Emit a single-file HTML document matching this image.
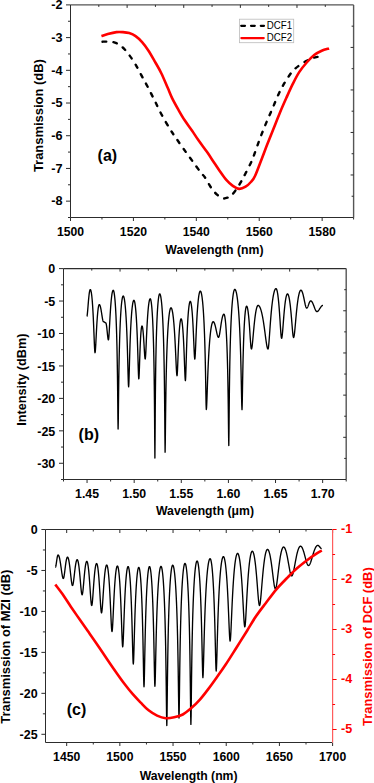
<!DOCTYPE html>
<html><head><meta charset="utf-8"><style>html,body{margin:0;padding:0;background:#fff;overflow:hidden}svg{display:block}text{font-family:"Liberation Sans",sans-serif}</style></head>
<body>
<svg width="374" height="783" viewBox="0 0 374 783">
<rect width="374" height="783" fill="#fff"/>
<line x1="70.5" y1="4.9" x2="353.6" y2="4.9" stroke="#555" stroke-width="1.4"/>
<line x1="353.6" y1="4.9" x2="353.6" y2="217.5" stroke="#555" stroke-width="1.4"/>
<line x1="70.5" y1="217.5" x2="353.6" y2="217.5" stroke="#2c2c2c" stroke-width="1"/>
<line x1="70.5" y1="4.9" x2="70.5" y2="217.5" stroke="#2c2c2c" stroke-width="1"/>
<line x1="66.0" y1="4.9" x2="70.5" y2="4.9" stroke="#2c2c2c" stroke-width="1"/>
<line x1="68.0" y1="21.253846153846155" x2="70.5" y2="21.253846153846155" stroke="#2c2c2c" stroke-width="1"/>
<line x1="66.0" y1="37.607692307692304" x2="70.5" y2="37.607692307692304" stroke="#2c2c2c" stroke-width="1"/>
<line x1="68.0" y1="53.96153846153846" x2="70.5" y2="53.96153846153846" stroke="#2c2c2c" stroke-width="1"/>
<line x1="66.0" y1="70.31538461538462" x2="70.5" y2="70.31538461538462" stroke="#2c2c2c" stroke-width="1"/>
<line x1="68.0" y1="86.66923076923078" x2="70.5" y2="86.66923076923078" stroke="#2c2c2c" stroke-width="1"/>
<line x1="66.0" y1="103.02307692307693" x2="70.5" y2="103.02307692307693" stroke="#2c2c2c" stroke-width="1"/>
<line x1="68.0" y1="119.37692307692309" x2="70.5" y2="119.37692307692309" stroke="#2c2c2c" stroke-width="1"/>
<line x1="66.0" y1="135.73076923076923" x2="70.5" y2="135.73076923076923" stroke="#2c2c2c" stroke-width="1"/>
<line x1="68.0" y1="152.08461538461538" x2="70.5" y2="152.08461538461538" stroke="#2c2c2c" stroke-width="1"/>
<line x1="66.0" y1="168.43846153846155" x2="70.5" y2="168.43846153846155" stroke="#2c2c2c" stroke-width="1"/>
<line x1="68.0" y1="184.7923076923077" x2="70.5" y2="184.7923076923077" stroke="#2c2c2c" stroke-width="1"/>
<line x1="66.0" y1="201.14615384615385" x2="70.5" y2="201.14615384615385" stroke="#2c2c2c" stroke-width="1"/>
<line x1="68.0" y1="217.49999999999997" x2="70.5" y2="217.49999999999997" stroke="#2c2c2c" stroke-width="1"/>
<text x="0" y="0" font-size="12.7" font-weight="bold" text-anchor="end" fill="#000"  transform="translate(62.6 9.25) scale(1 1.06)">-2</text>
<text x="0" y="0" font-size="12.7" font-weight="bold" text-anchor="end" fill="#000"  transform="translate(62.6 41.957692307692305) scale(1 1.06)">-3</text>
<text x="0" y="0" font-size="12.7" font-weight="bold" text-anchor="end" fill="#000"  transform="translate(62.6 74.66538461538461) scale(1 1.06)">-4</text>
<text x="0" y="0" font-size="12.7" font-weight="bold" text-anchor="end" fill="#000"  transform="translate(62.6 107.37307692307692) scale(1 1.06)">-5</text>
<text x="0" y="0" font-size="12.7" font-weight="bold" text-anchor="end" fill="#000"  transform="translate(62.6 140.08076923076922) scale(1 1.06)">-6</text>
<text x="0" y="0" font-size="12.7" font-weight="bold" text-anchor="end" fill="#000"  transform="translate(62.6 172.78846153846155) scale(1 1.06)">-7</text>
<text x="0" y="0" font-size="12.7" font-weight="bold" text-anchor="end" fill="#000"  transform="translate(62.6 205.49615384615385) scale(1 1.06)">-8</text>
<line x1="70.5" y1="217.5" x2="70.5" y2="221.0" stroke="#2c2c2c" stroke-width="1"/>
<line x1="101.95555555555555" y1="217.5" x2="101.95555555555555" y2="219.5" stroke="#2c2c2c" stroke-width="1"/>
<line x1="133.4111111111111" y1="217.5" x2="133.4111111111111" y2="221.0" stroke="#2c2c2c" stroke-width="1"/>
<line x1="164.86666666666667" y1="217.5" x2="164.86666666666667" y2="219.5" stroke="#2c2c2c" stroke-width="1"/>
<line x1="196.32222222222222" y1="217.5" x2="196.32222222222222" y2="221.0" stroke="#2c2c2c" stroke-width="1"/>
<line x1="227.7777777777778" y1="217.5" x2="227.7777777777778" y2="219.5" stroke="#2c2c2c" stroke-width="1"/>
<line x1="259.23333333333335" y1="217.5" x2="259.23333333333335" y2="221.0" stroke="#2c2c2c" stroke-width="1"/>
<line x1="290.68888888888887" y1="217.5" x2="290.68888888888887" y2="219.5" stroke="#2c2c2c" stroke-width="1"/>
<line x1="322.14444444444445" y1="217.5" x2="322.14444444444445" y2="221.0" stroke="#2c2c2c" stroke-width="1"/>
<line x1="353.6" y1="217.5" x2="353.6" y2="219.5" stroke="#2c2c2c" stroke-width="1"/>
<text x="0" y="0" font-size="12.2" font-weight="bold" text-anchor="middle" fill="#000"  transform="translate(70.5 236.2) scale(1 1.05)">1500</text>
<text x="0" y="0" font-size="12.2" font-weight="bold" text-anchor="middle" fill="#000"  transform="translate(133.4111111111111 236.2) scale(1 1.05)">1520</text>
<text x="0" y="0" font-size="12.2" font-weight="bold" text-anchor="middle" fill="#000"  transform="translate(196.32222222222222 236.2) scale(1 1.05)">1540</text>
<text x="0" y="0" font-size="12.2" font-weight="bold" text-anchor="middle" fill="#000"  transform="translate(259.23333333333335 236.2) scale(1 1.05)">1560</text>
<text x="0" y="0" font-size="12.2" font-weight="bold" text-anchor="middle" fill="#000"  transform="translate(322.14444444444445 236.2) scale(1 1.05)">1580</text>
<line x1="98.81" y1="4.9" x2="98.81" y2="6.9" stroke="#2c2c2c" stroke-width="1"/>
<line x1="127.12" y1="4.9" x2="127.12" y2="7.9" stroke="#2c2c2c" stroke-width="1"/>
<line x1="155.43" y1="4.9" x2="155.43" y2="6.9" stroke="#2c2c2c" stroke-width="1"/>
<line x1="183.74" y1="4.9" x2="183.74" y2="7.9" stroke="#2c2c2c" stroke-width="1"/>
<line x1="212.05" y1="4.9" x2="212.05" y2="6.9" stroke="#2c2c2c" stroke-width="1"/>
<line x1="240.36" y1="4.9" x2="240.36" y2="7.9" stroke="#2c2c2c" stroke-width="1"/>
<line x1="268.67" y1="4.9" x2="268.67" y2="6.9" stroke="#2c2c2c" stroke-width="1"/>
<line x1="296.98" y1="4.9" x2="296.98" y2="7.9" stroke="#2c2c2c" stroke-width="1"/>
<line x1="325.29" y1="4.9" x2="325.29" y2="6.9" stroke="#2c2c2c" stroke-width="1"/>
<line x1="351.6" y1="26.159999999999997" x2="353.6" y2="26.159999999999997" stroke="#2c2c2c" stroke-width="1"/>
<line x1="350.6" y1="47.419999999999995" x2="353.6" y2="47.419999999999995" stroke="#2c2c2c" stroke-width="1"/>
<line x1="351.6" y1="68.67999999999999" x2="353.6" y2="68.67999999999999" stroke="#2c2c2c" stroke-width="1"/>
<line x1="350.6" y1="89.94" x2="353.6" y2="89.94" stroke="#2c2c2c" stroke-width="1"/>
<line x1="351.6" y1="111.2" x2="353.6" y2="111.2" stroke="#2c2c2c" stroke-width="1"/>
<line x1="350.6" y1="132.45999999999998" x2="353.6" y2="132.45999999999998" stroke="#2c2c2c" stroke-width="1"/>
<line x1="351.6" y1="153.72" x2="353.6" y2="153.72" stroke="#2c2c2c" stroke-width="1"/>
<line x1="350.6" y1="174.98" x2="353.6" y2="174.98" stroke="#2c2c2c" stroke-width="1"/>
<line x1="351.6" y1="196.23999999999998" x2="353.6" y2="196.23999999999998" stroke="#2c2c2c" stroke-width="1"/>
<text x="214.4" y="254.0" font-size="12.7" font-weight="bold" text-anchor="middle" fill="#000"  textLength="98.2" lengthAdjust="spacingAndGlyphs">Wavelength (nm)</text>
<text x="42.7" y="115.6" font-size="13" font-weight="bold" text-anchor="middle" fill="#000"  transform="rotate(-90 42.7 115.6)" textLength="113" lengthAdjust="spacingAndGlyphs">Transmission (dB)</text>
<text x="107.4" y="161.2" font-size="16" font-weight="bold" text-anchor="middle" fill="#000" >(a)</text>
<rect x="239.5" y="19.2" width="54.2" height="23.5" fill="#fff" stroke="#bbb" stroke-width="0.8"/>
<line x1="241.2" y1="25.8" x2="264" y2="25.8" stroke="#000" stroke-width="2.2" stroke-dasharray="3.8,6" stroke-linecap="round"/>
<line x1="241.4" y1="38.1" x2="263.7" y2="38.1" stroke="#f00" stroke-width="2.3" stroke-linecap="round"/>
<text x="266.8" y="28.9" font-size="10" font-weight="normal" text-anchor="start" fill="#000"  textLength="25.3" lengthAdjust="spacingAndGlyphs">DCF1</text>
<text x="266.8" y="41.2" font-size="10" font-weight="normal" text-anchor="start" fill="#000"  textLength="25.3" lengthAdjust="spacingAndGlyphs">DCF2</text>
<path d="M101.40,41.70 C102.83,41.70 107.50,41.45 110.00,41.70 C112.50,41.95 114.27,42.23 116.40,43.20 C118.53,44.17 120.67,45.53 122.80,47.50 C124.93,49.47 127.07,52.15 129.20,55.00 C131.33,57.85 133.45,61.00 135.60,64.60 C137.75,68.20 139.95,72.63 142.10,76.60 C144.25,80.57 146.37,84.32 148.50,88.40 C150.63,92.48 152.75,96.80 154.90,101.10 C157.05,105.40 158.88,109.53 161.40,114.20 C163.92,118.87 167.55,125.10 170.00,129.10 C172.45,133.10 173.83,134.90 176.10,138.20 C178.37,141.50 180.93,145.17 183.60,148.90 C186.27,152.63 189.25,156.68 192.10,160.60 C194.95,164.52 198.55,169.58 200.70,172.40 C202.85,175.22 203.22,174.88 205.00,177.50 C206.78,180.12 209.40,185.25 211.40,188.10 C213.40,190.95 215.13,192.92 217.00,194.60 C218.87,196.28 220.87,197.68 222.60,198.20 C224.33,198.72 225.78,198.30 227.40,197.70 C229.02,197.10 230.28,196.82 232.30,194.60 C234.32,192.38 237.37,187.80 239.50,184.40 C241.63,181.00 243.23,177.73 245.10,174.20 C246.97,170.67 249.28,166.18 250.70,163.20 C252.12,160.22 252.12,160.25 253.60,156.30 C255.08,152.35 257.53,144.98 259.60,139.50 C261.67,134.02 263.85,128.58 266.00,123.40 C268.15,118.22 270.35,113.38 272.50,108.40 C274.65,103.42 276.77,97.95 278.90,93.50 C281.03,89.05 282.98,85.45 285.30,81.70 C287.62,77.95 290.13,73.95 292.80,71.00 C295.47,68.05 298.45,65.95 301.30,64.00 C304.15,62.05 307.40,60.45 309.90,59.30 C312.40,58.15 313.98,57.53 316.30,57.10 C318.62,56.67 322.55,56.77 323.80,56.70" fill="none" stroke="#000" stroke-width="2.4" stroke-dasharray="3.6,7.2" stroke-dashoffset="-1.2" stroke-linecap="round"/>
<path d="M101.40,36.10 C102.47,35.75 105.30,34.67 107.80,34.00 C110.30,33.33 113.90,32.42 116.40,32.10 C118.90,31.78 120.67,31.93 122.80,32.10 C124.93,32.27 127.07,32.43 129.20,33.10 C131.33,33.77 133.45,34.60 135.60,36.10 C137.75,37.60 139.95,39.67 142.10,42.10 C144.25,44.53 146.37,47.45 148.50,50.70 C150.63,53.95 152.77,57.85 154.90,61.60 C157.03,65.35 159.17,68.83 161.30,73.20 C163.43,77.57 165.90,83.65 167.70,87.80 C169.50,91.95 170.30,94.42 172.10,98.10 C173.90,101.78 176.40,106.20 178.50,109.90 C180.60,113.60 182.43,116.83 184.70,120.30 C186.97,123.77 189.80,127.37 192.10,130.70 C194.40,134.03 196.00,136.73 198.50,140.30 C201.00,143.87 204.60,148.53 207.10,152.10 C209.60,155.67 211.37,158.50 213.50,161.70 C215.63,164.90 217.77,168.27 219.90,171.30 C222.03,174.33 224.15,177.47 226.30,179.90 C228.45,182.33 230.65,184.40 232.80,185.90 C234.95,187.40 237.07,188.77 239.20,188.90 C241.33,189.03 243.65,187.85 245.60,186.70 C247.55,185.55 249.33,183.78 250.90,182.00 C252.47,180.22 253.18,179.88 255.00,176.00 C256.82,172.12 259.78,163.90 261.80,158.70 C263.82,153.50 265.15,149.78 267.10,144.80 C269.05,139.82 271.37,134.15 273.50,128.80 C275.63,123.45 277.75,117.87 279.90,112.70 C282.05,107.53 284.25,102.60 286.40,97.80 C288.55,93.00 290.67,88.18 292.80,83.90 C294.93,79.62 296.88,75.67 299.20,72.10 C301.52,68.53 304.20,65.35 306.70,62.50 C309.20,59.65 311.70,56.97 314.20,55.00 C316.70,53.03 319.22,51.80 321.70,50.70 C324.18,49.60 327.87,48.78 329.10,48.40" fill="none" stroke="#f00" stroke-width="2.6"/>
<line x1="63.5" y1="268.6" x2="346.2" y2="268.6" stroke="#2c2c2c" stroke-width="1.1"/>
<line x1="346.2" y1="268.6" x2="346.2" y2="479.5" stroke="#555" stroke-width="1.4"/>
<line x1="63.5" y1="479.5" x2="346.2" y2="479.5" stroke="#2c2c2c" stroke-width="1"/>
<line x1="63.5" y1="268.6" x2="63.5" y2="479.5" stroke="#2c2c2c" stroke-width="1"/>
<line x1="59.0" y1="268.6" x2="63.5" y2="268.6" stroke="#2c2c2c" stroke-width="1"/>
<line x1="61.0" y1="284.82307692307694" x2="63.5" y2="284.82307692307694" stroke="#2c2c2c" stroke-width="1"/>
<line x1="59.0" y1="301.04615384615386" x2="63.5" y2="301.04615384615386" stroke="#2c2c2c" stroke-width="1"/>
<line x1="61.0" y1="317.2692307692308" x2="63.5" y2="317.2692307692308" stroke="#2c2c2c" stroke-width="1"/>
<line x1="59.0" y1="333.4923076923077" x2="63.5" y2="333.4923076923077" stroke="#2c2c2c" stroke-width="1"/>
<line x1="61.0" y1="349.7153846153846" x2="63.5" y2="349.7153846153846" stroke="#2c2c2c" stroke-width="1"/>
<line x1="59.0" y1="365.9384615384615" x2="63.5" y2="365.9384615384615" stroke="#2c2c2c" stroke-width="1"/>
<line x1="61.0" y1="382.1615384615385" x2="63.5" y2="382.1615384615385" stroke="#2c2c2c" stroke-width="1"/>
<line x1="59.0" y1="398.3846153846154" x2="63.5" y2="398.3846153846154" stroke="#2c2c2c" stroke-width="1"/>
<line x1="61.0" y1="414.60769230769233" x2="63.5" y2="414.60769230769233" stroke="#2c2c2c" stroke-width="1"/>
<line x1="59.0" y1="430.8307692307692" x2="63.5" y2="430.8307692307692" stroke="#2c2c2c" stroke-width="1"/>
<line x1="61.0" y1="447.05384615384617" x2="63.5" y2="447.05384615384617" stroke="#2c2c2c" stroke-width="1"/>
<line x1="59.0" y1="463.2769230769231" x2="63.5" y2="463.2769230769231" stroke="#2c2c2c" stroke-width="1"/>
<line x1="61.0" y1="479.5" x2="63.5" y2="479.5" stroke="#2c2c2c" stroke-width="1"/>
<text x="0" y="0" font-size="12.5" font-weight="bold" text-anchor="end" fill="#000"  transform="translate(55.3 273.3) scale(1 1.04)">0</text>
<text x="0" y="0" font-size="12.5" font-weight="bold" text-anchor="end" fill="#000"  transform="translate(55.3 305.74615384615385) scale(1 1.04)">-5</text>
<text x="0" y="0" font-size="12.5" font-weight="bold" text-anchor="end" fill="#000"  transform="translate(55.3 338.1923076923077) scale(1 1.04)">-10</text>
<text x="0" y="0" font-size="12.5" font-weight="bold" text-anchor="end" fill="#000"  transform="translate(55.3 370.6384615384615) scale(1 1.04)">-15</text>
<text x="0" y="0" font-size="12.5" font-weight="bold" text-anchor="end" fill="#000"  transform="translate(55.3 403.0846153846154) scale(1 1.04)">-20</text>
<text x="0" y="0" font-size="12.5" font-weight="bold" text-anchor="end" fill="#000"  transform="translate(55.3 435.5307692307692) scale(1 1.04)">-25</text>
<text x="0" y="0" font-size="12.5" font-weight="bold" text-anchor="end" fill="#000"  transform="translate(55.3 467.9769230769231) scale(1 1.04)">-30</text>
<line x1="63.5" y1="479.5" x2="63.5" y2="481.5" stroke="#2c2c2c" stroke-width="1"/>
<line x1="87.05833333333325" y1="479.5" x2="87.05833333333325" y2="483.0" stroke="#2c2c2c" stroke-width="1"/>
<line x1="110.6166666666667" y1="479.5" x2="110.6166666666667" y2="481.5" stroke="#2c2c2c" stroke-width="1"/>
<line x1="134.17499999999995" y1="479.5" x2="134.17499999999995" y2="483.0" stroke="#2c2c2c" stroke-width="1"/>
<line x1="157.7333333333334" y1="479.5" x2="157.7333333333334" y2="481.5" stroke="#2c2c2c" stroke-width="1"/>
<line x1="181.29166666666669" y1="479.5" x2="181.29166666666669" y2="483.0" stroke="#2c2c2c" stroke-width="1"/>
<line x1="204.85000000000014" y1="479.5" x2="204.85000000000014" y2="481.5" stroke="#2c2c2c" stroke-width="1"/>
<line x1="228.4083333333334" y1="479.5" x2="228.4083333333334" y2="483.0" stroke="#2c2c2c" stroke-width="1"/>
<line x1="251.9666666666666" y1="479.5" x2="251.9666666666666" y2="481.5" stroke="#2c2c2c" stroke-width="1"/>
<line x1="275.5250000000001" y1="479.5" x2="275.5250000000001" y2="483.0" stroke="#2c2c2c" stroke-width="1"/>
<line x1="299.08333333333337" y1="479.5" x2="299.08333333333337" y2="481.5" stroke="#2c2c2c" stroke-width="1"/>
<line x1="322.6416666666668" y1="479.5" x2="322.6416666666668" y2="483.0" stroke="#2c2c2c" stroke-width="1"/>
<line x1="346.20000000000005" y1="479.5" x2="346.20000000000005" y2="481.5" stroke="#2c2c2c" stroke-width="1"/>
<text x="0" y="0" font-size="12.3" font-weight="bold" text-anchor="middle" fill="#000"  transform="translate(87.05833333333325 497.9) scale(1 1.05)">1.45</text>
<text x="0" y="0" font-size="12.3" font-weight="bold" text-anchor="middle" fill="#000"  transform="translate(134.17499999999995 497.9) scale(1 1.05)">1.50</text>
<text x="0" y="0" font-size="12.3" font-weight="bold" text-anchor="middle" fill="#000"  transform="translate(181.29166666666669 497.9) scale(1 1.05)">1.55</text>
<text x="0" y="0" font-size="12.3" font-weight="bold" text-anchor="middle" fill="#000"  transform="translate(228.4083333333334 497.9) scale(1 1.05)">1.60</text>
<text x="0" y="0" font-size="12.3" font-weight="bold" text-anchor="middle" fill="#000"  transform="translate(275.52499999999986 497.9) scale(1 1.05)">1.65</text>
<text x="0" y="0" font-size="12.3" font-weight="bold" text-anchor="middle" fill="#000"  transform="translate(322.6416666666666 497.9) scale(1 1.05)">1.70</text>
<line x1="91.77" y1="268.6" x2="91.77" y2="270.6" stroke="#2c2c2c" stroke-width="1"/>
<line x1="120.03999999999999" y1="268.6" x2="120.03999999999999" y2="271.6" stroke="#2c2c2c" stroke-width="1"/>
<line x1="148.31" y1="268.6" x2="148.31" y2="270.6" stroke="#2c2c2c" stroke-width="1"/>
<line x1="176.57999999999998" y1="268.6" x2="176.57999999999998" y2="271.6" stroke="#2c2c2c" stroke-width="1"/>
<line x1="204.85" y1="268.6" x2="204.85" y2="270.6" stroke="#2c2c2c" stroke-width="1"/>
<line x1="233.11999999999998" y1="268.6" x2="233.11999999999998" y2="271.6" stroke="#2c2c2c" stroke-width="1"/>
<line x1="261.39" y1="268.6" x2="261.39" y2="270.6" stroke="#2c2c2c" stroke-width="1"/>
<line x1="289.65999999999997" y1="268.6" x2="289.65999999999997" y2="271.6" stroke="#2c2c2c" stroke-width="1"/>
<line x1="317.92999999999995" y1="268.6" x2="317.92999999999995" y2="270.6" stroke="#2c2c2c" stroke-width="1"/>
<line x1="344.2" y1="289.69" x2="346.2" y2="289.69" stroke="#2c2c2c" stroke-width="1"/>
<line x1="343.2" y1="310.78000000000003" x2="346.2" y2="310.78000000000003" stroke="#2c2c2c" stroke-width="1"/>
<line x1="344.2" y1="331.87" x2="346.2" y2="331.87" stroke="#2c2c2c" stroke-width="1"/>
<line x1="343.2" y1="352.96000000000004" x2="346.2" y2="352.96000000000004" stroke="#2c2c2c" stroke-width="1"/>
<line x1="344.2" y1="374.05" x2="346.2" y2="374.05" stroke="#2c2c2c" stroke-width="1"/>
<line x1="343.2" y1="395.14" x2="346.2" y2="395.14" stroke="#2c2c2c" stroke-width="1"/>
<line x1="344.2" y1="416.23" x2="346.2" y2="416.23" stroke="#2c2c2c" stroke-width="1"/>
<line x1="343.2" y1="437.32" x2="346.2" y2="437.32" stroke="#2c2c2c" stroke-width="1"/>
<line x1="344.2" y1="458.41" x2="346.2" y2="458.41" stroke="#2c2c2c" stroke-width="1"/>
<text x="205" y="515.0" font-size="12.7" font-weight="bold" text-anchor="middle" fill="#000"  textLength="98" lengthAdjust="spacingAndGlyphs">Wavelength (μm)</text>
<text x="25.7" y="379.7" font-size="13" font-weight="bold" text-anchor="middle" fill="#000"  transform="rotate(-90 25.7 379.7)" textLength="92.2" lengthAdjust="spacingAndGlyphs">Intensity (dBm)</text>
<text x="88.8" y="439.8" font-size="16" font-weight="bold" text-anchor="middle" fill="#000" >(b)</text>
<path d="M86.80,316.40 L86.92,316.28 L87.03,315.92 L87.15,315.33 L87.27,314.53 L87.38,313.55 L87.50,312.42 L87.62,311.17 L87.73,309.83 L87.85,308.42 L87.97,306.98 L88.08,305.52 L88.20,304.07 L88.32,302.65 L88.43,301.26 L88.55,299.93 L88.67,298.65 L88.78,297.45 L88.90,296.31 L89.02,295.26 L89.13,294.29 L89.25,293.41 L89.37,292.62 L89.48,291.91 L89.60,291.30 L89.72,290.78 L89.83,290.36 L89.95,290.03 L90.07,289.79 L90.18,289.65 L90.30,289.60 L90.46,289.67 L90.61,289.88 L90.77,290.22 L90.93,290.71 L91.08,291.34 L91.24,292.11 L91.40,293.03 L91.55,294.11 L91.71,295.34 L91.87,296.72 L92.02,298.28 L92.18,300.00 L92.34,301.91 L92.49,304.00 L92.65,306.28 L92.81,308.77 L92.96,311.46 L93.12,314.37 L93.28,317.50 L93.43,320.85 L93.59,324.42 L93.75,328.18 L93.90,332.10 L94.06,336.13 L94.22,340.14 L94.37,343.98 L94.53,347.44 L94.69,350.23 L94.84,352.06 L95.00,352.70 L95.14,352.35 L95.29,351.34 L95.43,349.75 L95.57,347.68 L95.72,345.26 L95.86,342.60 L96.00,339.82 L96.15,336.99 L96.29,334.17 L96.43,331.42 L96.58,328.76 L96.72,326.22 L96.86,323.82 L97.01,321.55 L97.15,319.44 L97.29,317.46 L97.44,315.64 L97.58,313.97 L97.72,312.44 L97.87,311.05 L98.01,309.81 L98.15,308.70 L98.30,307.73 L98.44,306.89 L98.58,306.19 L98.73,305.62 L98.87,305.17 L99.01,304.85 L99.16,304.66 L99.30,304.60 L99.44,304.64 L99.58,304.74 L99.72,304.92 L99.86,305.16 L100.00,305.47 L100.14,305.85 L100.28,306.30 L100.42,306.80 L100.56,307.37 L100.70,308.00 L100.84,308.69 L100.98,309.42 L101.12,310.20 L101.26,311.02 L101.40,311.87 L101.54,312.75 L101.68,313.65 L101.82,314.56 L101.96,315.47 L102.10,316.36 L102.24,317.23 L102.38,318.06 L102.52,318.83 L102.66,319.54 L102.80,320.17 L102.94,320.70 L103.08,321.13 L103.22,321.44 L103.36,321.64 L103.50,321.70 L103.57,321.70 L103.65,321.71 L103.72,321.73 L103.79,321.75 L103.87,321.77 L103.94,321.80 L104.01,321.84 L104.09,321.88 L104.16,321.92 L104.23,321.97 L104.31,322.02 L104.38,322.08 L104.45,322.13 L104.53,322.19 L104.60,322.24 L104.67,322.30 L104.75,322.36 L104.82,322.42 L104.89,322.47 L104.97,322.52 L105.04,322.57 L105.11,322.62 L105.19,322.66 L105.26,322.69 L105.33,322.72 L105.41,322.75 L105.48,322.77 L105.55,322.79 L105.63,322.80 L105.70,322.80 L105.79,322.84 L105.88,322.94 L105.97,323.12 L106.06,323.36 L106.15,323.67 L106.24,324.05 L106.33,324.50 L106.42,325.00 L106.51,325.57 L106.60,326.20 L106.69,326.89 L106.78,327.62 L106.87,328.40 L106.96,329.22 L107.05,330.07 L107.14,330.95 L107.23,331.85 L107.32,332.76 L107.41,333.67 L107.50,334.56 L107.59,335.43 L107.68,336.26 L107.77,337.03 L107.86,337.74 L107.95,338.37 L108.04,338.90 L108.13,339.33 L108.22,339.64 L108.31,339.84 L108.40,339.90 L108.56,339.53 L108.72,338.46 L108.88,336.76 L109.04,334.57 L109.20,332.03 L109.36,329.24 L109.52,326.34 L109.68,323.40 L109.84,320.48 L110.00,317.64 L110.16,314.91 L110.32,312.30 L110.48,309.84 L110.64,307.52 L110.80,305.36 L110.96,303.35 L111.12,301.50 L111.28,299.80 L111.44,298.24 L111.60,296.84 L111.76,295.57 L111.92,294.45 L112.08,293.47 L112.24,292.62 L112.40,291.91 L112.56,291.33 L112.72,290.88 L112.88,290.56 L113.04,290.36 L113.20,290.30 L113.36,290.38 L113.53,290.61 L113.69,290.99 L113.85,291.54 L114.02,292.24 L114.18,293.11 L114.34,294.14 L114.51,295.36 L114.67,296.75 L114.83,298.34 L115.00,300.13 L115.16,302.14 L115.32,304.38 L115.49,306.87 L115.65,309.63 L115.81,312.69 L115.98,316.09 L116.14,319.87 L116.30,324.07 L116.47,328.76 L116.63,334.03 L116.79,339.99 L116.96,346.79 L117.12,354.62 L117.28,363.77 L117.45,374.63 L117.61,387.70 L117.77,403.35 L117.94,420.14 L118.10,429.10 L118.27,421.59 L118.44,406.65 L118.61,392.01 L118.78,379.47 L118.95,368.89 L119.12,359.91 L119.29,352.19 L119.46,345.47 L119.63,339.56 L119.80,334.33 L119.97,329.66 L120.14,325.48 L120.31,321.72 L120.48,318.34 L120.65,315.29 L120.82,312.53 L120.99,310.05 L121.16,307.81 L121.33,305.81 L121.50,304.02 L121.67,302.44 L121.84,301.05 L122.01,299.84 L122.18,298.80 L122.35,297.94 L122.52,297.23 L122.69,296.69 L122.86,296.31 L123.03,296.08 L123.20,296.00 L123.38,296.07 L123.56,296.30 L123.74,296.67 L123.92,297.19 L124.10,297.87 L124.28,298.71 L124.46,299.71 L124.64,300.87 L124.82,302.21 L125.00,303.74 L125.18,305.45 L125.36,307.36 L125.54,309.48 L125.72,311.84 L125.90,314.43 L126.08,317.29 L126.26,320.44 L126.44,323.90 L126.62,327.70 L126.80,331.88 L126.98,336.48 L127.16,341.54 L127.34,347.09 L127.52,353.16 L127.70,359.73 L127.88,366.70 L128.06,373.75 L128.24,380.22 L128.42,385.00 L128.60,386.80 L128.78,385.26 L128.95,381.10 L129.13,375.33 L129.31,368.90 L129.48,362.42 L129.66,356.22 L129.84,350.42 L130.01,345.07 L130.19,340.17 L130.37,335.69 L130.54,331.60 L130.72,327.87 L130.90,324.47 L131.07,321.38 L131.25,318.55 L131.43,315.99 L131.60,313.67 L131.78,311.56 L131.96,309.67 L132.13,307.97 L132.31,306.47 L132.49,305.14 L132.66,303.98 L132.84,302.99 L133.02,302.16 L133.19,301.49 L133.37,300.97 L133.55,300.60 L133.72,300.37 L133.90,300.30 L134.06,300.37 L134.23,300.59 L134.39,300.95 L134.55,301.47 L134.72,302.13 L134.88,302.95 L135.04,303.92 L135.21,305.06 L135.37,306.36 L135.53,307.84 L135.70,309.50 L135.86,311.35 L136.02,313.40 L136.19,315.66 L136.35,318.15 L136.51,320.89 L136.68,323.88 L136.84,327.15 L137.00,330.71 L137.17,334.60 L137.33,338.82 L137.49,343.39 L137.66,348.31 L137.82,353.56 L137.98,359.05 L138.15,364.62 L138.31,369.96 L138.47,374.55 L138.64,377.75 L138.80,378.90 L138.91,378.48 L139.01,377.25 L139.12,375.32 L139.23,372.86 L139.33,370.01 L139.44,366.94 L139.55,363.77 L139.65,360.58 L139.76,357.45 L139.87,354.42 L139.97,351.52 L140.08,348.78 L140.19,346.19 L140.29,343.77 L140.40,341.52 L140.51,339.44 L140.61,337.52 L140.72,335.76 L140.83,334.15 L140.93,332.71 L141.04,331.41 L141.15,330.25 L141.25,329.25 L141.36,328.38 L141.47,327.65 L141.57,327.05 L141.68,326.59 L141.79,326.26 L141.89,326.07 L142.00,326.00 L142.11,326.05 L142.21,326.21 L142.32,326.48 L142.43,326.85 L142.53,327.33 L142.64,327.92 L142.75,328.61 L142.85,329.42 L142.96,330.32 L143.07,331.34 L143.17,332.45 L143.28,333.67 L143.39,334.99 L143.49,336.41 L143.60,337.92 L143.71,339.52 L143.81,341.19 L143.92,342.93 L144.03,344.72 L144.13,346.54 L144.24,348.36 L144.35,350.17 L144.45,351.92 L144.56,353.57 L144.67,355.08 L144.77,356.41 L144.88,357.51 L144.99,358.32 L145.09,358.83 L145.20,359.00 L145.37,358.43 L145.53,356.79 L145.70,354.27 L145.87,351.12 L146.03,347.57 L146.20,343.83 L146.37,340.05 L146.53,336.33 L146.70,332.74 L146.87,329.32 L147.03,326.09 L147.20,323.06 L147.37,320.24 L147.53,317.61 L147.70,315.19 L147.87,312.96 L148.03,310.91 L148.20,309.04 L148.37,307.35 L148.53,305.82 L148.70,304.45 L148.87,303.24 L149.03,302.19 L149.20,301.28 L149.37,300.52 L149.53,299.90 L149.70,299.41 L149.87,299.07 L150.03,298.87 L150.20,298.80 L150.36,298.88 L150.51,299.11 L150.67,299.50 L150.83,300.04 L150.98,300.75 L151.14,301.62 L151.30,302.66 L151.45,303.88 L151.61,305.28 L151.77,306.87 L151.92,308.67 L152.08,310.69 L152.24,312.95 L152.39,315.45 L152.55,318.24 L152.71,321.32 L152.86,324.75 L153.02,328.56 L153.18,332.81 L153.33,337.57 L153.49,342.93 L153.65,349.01 L153.80,355.98 L153.96,364.07 L154.12,373.63 L154.27,385.21 L154.43,399.66 L154.59,418.29 L154.74,441.83 L154.90,458.00 L155.06,439.57 L155.22,414.50 L155.38,395.32 L155.54,380.64 L155.70,368.95 L155.86,359.31 L156.02,351.18 L156.18,344.19 L156.34,338.09 L156.50,332.72 L156.66,327.95 L156.82,323.69 L156.98,319.88 L157.14,316.44 L157.30,313.35 L157.46,310.57 L157.62,308.06 L157.78,305.80 L157.94,303.78 L158.10,301.98 L158.26,300.38 L158.42,298.98 L158.58,297.76 L158.74,296.72 L158.90,295.85 L159.06,295.14 L159.22,294.60 L159.38,294.21 L159.54,293.98 L159.70,293.90 L159.88,293.98 L160.06,294.21 L160.24,294.60 L160.42,295.14 L160.60,295.85 L160.78,296.72 L160.96,297.76 L161.14,298.98 L161.32,300.38 L161.50,301.97 L161.68,303.77 L161.86,305.79 L162.04,308.04 L162.22,310.55 L162.40,313.33 L162.58,316.42 L162.76,319.85 L162.94,323.66 L163.12,327.91 L163.30,332.66 L163.48,338.02 L163.66,344.09 L163.84,351.05 L164.02,359.14 L164.20,368.69 L164.38,380.25 L164.56,394.65 L164.74,413.17 L164.92,436.42 L165.10,452.20 L165.30,441.59 L165.49,422.94 L165.69,406.36 L165.89,392.84 L166.08,381.74 L166.28,372.45 L166.48,364.52 L166.67,357.67 L166.87,351.67 L167.07,346.37 L167.26,341.65 L167.46,337.44 L167.66,333.65 L167.85,330.24 L168.05,327.17 L168.25,324.40 L168.44,321.90 L168.64,319.66 L168.84,317.65 L169.03,315.85 L169.23,314.26 L169.43,312.86 L169.62,311.65 L169.82,310.61 L170.02,309.74 L170.21,309.04 L170.41,308.49 L170.61,308.11 L170.80,307.88 L171.00,307.80 L171.20,307.87 L171.40,308.08 L171.60,308.43 L171.80,308.93 L172.00,309.57 L172.20,310.36 L172.40,311.30 L172.60,312.40 L172.80,313.65 L173.00,315.08 L173.20,316.67 L173.40,318.44 L173.60,320.40 L173.80,322.55 L174.00,324.91 L174.20,327.48 L174.40,330.28 L174.60,333.32 L174.80,336.60 L175.00,340.14 L175.20,343.93 L175.40,347.97 L175.60,352.22 L175.80,356.63 L176.00,361.11 L176.20,365.47 L176.40,369.46 L176.60,372.74 L176.80,374.93 L177.00,375.70 L177.14,375.20 L177.27,373.77 L177.41,371.54 L177.55,368.72 L177.68,365.51 L177.82,362.09 L177.96,358.59 L178.09,355.11 L178.23,351.73 L178.37,348.49 L178.50,345.41 L178.64,342.51 L178.78,339.79 L178.91,337.26 L179.05,334.91 L179.19,332.74 L179.32,330.75 L179.46,328.93 L179.60,327.28 L179.73,325.78 L179.87,324.45 L180.01,323.26 L180.14,322.23 L180.28,321.33 L180.42,320.59 L180.55,319.98 L180.69,319.50 L180.83,319.17 L180.96,318.97 L181.10,318.90 L181.24,318.97 L181.39,319.17 L181.53,319.52 L181.67,320.00 L181.82,320.63 L181.96,321.40 L182.10,322.31 L182.25,323.38 L182.39,324.60 L182.53,325.97 L182.68,327.52 L182.82,329.23 L182.96,331.11 L183.11,333.18 L183.25,335.44 L183.39,337.90 L183.54,340.56 L183.68,343.43 L183.82,346.51 L183.97,349.81 L184.11,353.30 L184.25,356.98 L184.40,360.81 L184.54,364.71 L184.68,368.59 L184.83,372.29 L184.97,375.60 L185.11,378.26 L185.26,379.99 L185.40,380.60 L185.56,379.42 L185.73,376.16 L185.89,371.48 L186.05,366.06 L186.22,360.43 L186.38,354.88 L186.54,349.59 L186.71,344.63 L186.87,340.03 L187.03,335.79 L187.20,331.89 L187.36,328.31 L187.52,325.03 L187.69,322.03 L187.85,319.29 L188.01,316.79 L188.18,314.52 L188.34,312.46 L188.50,310.61 L188.67,308.95 L188.83,307.47 L188.99,306.16 L189.16,305.02 L189.32,304.05 L189.48,303.23 L189.65,302.57 L189.81,302.06 L189.97,301.69 L190.14,301.47 L190.30,301.40 L190.45,301.47 L190.60,301.67 L190.75,302.01 L190.90,302.48 L191.05,303.09 L191.20,303.85 L191.35,304.74 L191.50,305.78 L191.65,306.97 L191.80,308.32 L191.95,309.82 L192.10,311.48 L192.25,313.31 L192.40,315.32 L192.55,317.50 L192.70,319.87 L192.85,322.42 L193.00,325.17 L193.15,328.10 L193.30,331.22 L193.45,334.50 L193.60,337.93 L193.75,341.46 L193.90,345.03 L194.05,348.53 L194.20,351.81 L194.35,354.71 L194.50,357.00 L194.65,358.49 L194.80,359.00 L194.98,358.23 L195.17,356.04 L195.35,352.76 L195.53,348.77 L195.72,344.41 L195.90,339.93 L196.08,335.52 L196.27,331.27 L196.45,327.23 L196.63,323.44 L196.82,319.90 L197.00,316.62 L197.18,313.58 L197.37,310.78 L197.55,308.21 L197.73,305.85 L197.92,303.70 L198.10,301.74 L198.28,299.97 L198.47,298.38 L198.65,296.95 L198.83,295.70 L199.02,294.60 L199.20,293.66 L199.38,292.87 L199.57,292.23 L199.75,291.73 L199.93,291.38 L200.12,291.17 L200.30,291.10 L200.50,291.18 L200.70,291.40 L200.90,291.79 L201.10,292.33 L201.30,293.02 L201.50,293.88 L201.70,294.91 L201.90,296.11 L202.10,297.50 L202.30,299.07 L202.50,300.84 L202.70,302.82 L202.90,305.04 L203.10,307.49 L203.30,310.22 L203.50,313.23 L203.70,316.57 L203.90,320.26 L204.10,324.37 L204.30,328.93 L204.50,334.03 L204.70,339.75 L204.90,346.21 L205.10,353.55 L205.30,361.94 L205.50,371.56 L205.70,382.47 L205.90,394.24 L206.10,404.83 L206.30,409.50 L206.53,407.88 L206.76,403.54 L206.99,397.57 L207.22,390.95 L207.45,384.33 L207.68,378.01 L207.91,372.12 L208.14,366.71 L208.37,361.76 L208.60,357.25 L208.83,353.13 L209.06,349.38 L209.29,345.96 L209.52,342.84 L209.75,340.01 L209.98,337.44 L210.21,335.10 L210.44,332.99 L210.67,331.09 L210.90,329.39 L211.13,327.88 L211.36,326.55 L211.59,325.39 L211.82,324.40 L212.05,323.56 L212.28,322.89 L212.51,322.37 L212.74,322.00 L212.97,321.77 L213.20,321.70 L213.38,321.73 L213.55,321.83 L213.73,321.99 L213.91,322.22 L214.08,322.51 L214.26,322.87 L214.44,323.28 L214.61,323.76 L214.79,324.28 L214.97,324.87 L215.14,325.50 L215.32,326.18 L215.50,326.90 L215.67,327.65 L215.85,328.43 L216.03,329.24 L216.20,330.06 L216.38,330.89 L216.56,331.71 L216.73,332.52 L216.91,333.30 L217.09,334.05 L217.26,334.74 L217.44,335.38 L217.62,335.94 L217.79,336.41 L217.97,336.79 L218.15,337.07 L218.32,337.24 L218.50,337.30 L218.68,337.20 L218.86,336.91 L219.04,336.44 L219.22,335.79 L219.40,335.00 L219.58,334.07 L219.76,333.04 L219.94,331.93 L220.12,330.75 L220.30,329.53 L220.48,328.29 L220.66,327.05 L220.84,325.82 L221.02,324.61 L221.20,323.45 L221.38,322.33 L221.56,321.26 L221.74,320.25 L221.92,319.31 L222.10,318.45 L222.28,317.65 L222.46,316.94 L222.64,316.30 L222.82,315.75 L223.00,315.28 L223.18,314.89 L223.36,314.59 L223.54,314.37 L223.72,314.24 L223.90,314.20 L224.06,314.28 L224.23,314.51 L224.39,314.89 L224.55,315.43 L224.72,316.13 L224.88,317.00 L225.04,318.03 L225.21,319.24 L225.37,320.64 L225.53,322.22 L225.70,324.00 L225.86,326.01 L226.02,328.24 L226.19,330.72 L226.35,333.47 L226.51,336.52 L226.68,339.90 L226.84,343.65 L227.00,347.82 L227.17,352.48 L227.33,357.70 L227.49,363.59 L227.66,370.28 L227.82,377.97 L227.98,386.89 L228.15,397.36 L228.31,409.73 L228.47,424.03 L228.64,438.40 L228.80,445.50 L229.00,430.64 L229.20,408.11 L229.40,389.86 L229.60,375.58 L229.80,364.08 L230.00,354.56 L230.20,346.50 L230.40,339.55 L230.60,333.49 L230.80,328.14 L231.00,323.39 L231.20,319.14 L231.40,315.33 L231.60,311.91 L231.80,308.82 L232.00,306.04 L232.20,303.54 L232.40,301.29 L232.60,299.27 L232.80,297.47 L233.00,295.88 L233.20,294.47 L233.40,293.26 L233.60,292.22 L233.80,291.35 L234.00,290.64 L234.20,290.10 L234.40,289.71 L234.60,289.48 L234.80,289.40 L235.04,289.48 L235.28,289.71 L235.52,290.09 L235.76,290.63 L236.00,291.33 L236.24,292.19 L236.48,293.22 L236.72,294.42 L236.96,295.80 L237.20,297.38 L237.44,299.15 L237.68,301.14 L237.92,303.35 L238.16,305.81 L238.40,308.54 L238.64,311.56 L238.88,314.91 L239.12,318.61 L239.36,322.73 L239.60,327.31 L239.84,332.42 L240.08,338.18 L240.32,344.67 L240.56,352.07 L240.80,360.55 L241.04,370.30 L241.28,381.43 L241.52,393.56 L241.76,404.65 L242.00,409.60 L242.15,406.79 L242.31,399.77 L242.46,391.00 L242.61,382.12 L242.77,373.82 L242.92,366.29 L243.07,359.54 L243.23,353.49 L243.38,348.07 L243.53,343.19 L243.69,338.79 L243.84,334.82 L243.99,331.23 L244.15,327.97 L244.30,325.02 L244.45,322.36 L244.61,319.94 L244.76,317.77 L244.91,315.82 L245.07,314.07 L245.22,312.52 L245.37,311.15 L245.53,309.97 L245.68,308.95 L245.83,308.10 L245.99,307.41 L246.14,306.88 L246.29,306.50 L246.45,306.28 L246.60,306.20 L246.76,306.26 L246.92,306.44 L247.08,306.74 L247.24,307.17 L247.40,307.71 L247.56,308.38 L247.72,309.18 L247.88,310.10 L248.04,311.15 L248.20,312.32 L248.36,313.63 L248.52,315.06 L248.68,316.63 L248.84,318.33 L249.00,320.15 L249.16,322.11 L249.32,324.18 L249.48,326.37 L249.64,328.66 L249.80,331.04 L249.96,333.47 L250.12,335.93 L250.28,338.37 L250.44,340.74 L250.60,342.96 L250.76,344.96 L250.92,346.64 L251.08,347.92 L251.24,348.73 L251.40,349.00 L251.62,348.72 L251.85,347.88 L252.07,346.56 L252.29,344.82 L252.52,342.76 L252.74,340.48 L252.96,338.05 L253.19,335.55 L253.41,333.03 L253.63,330.55 L253.86,328.13 L254.08,325.80 L254.30,323.58 L254.53,321.48 L254.75,319.50 L254.97,317.65 L255.20,315.93 L255.42,314.34 L255.64,312.89 L255.87,311.58 L256.09,310.39 L256.31,309.33 L256.54,308.40 L256.76,307.60 L256.98,306.93 L257.21,306.38 L257.43,305.95 L257.65,305.64 L257.88,305.46 L258.10,305.40 L258.43,305.46 L258.76,305.64 L259.09,305.95 L259.42,306.38 L259.75,306.93 L260.08,307.60 L260.41,308.40 L260.74,309.33 L261.07,310.39 L261.40,311.58 L261.73,312.89 L262.06,314.34 L262.39,315.93 L262.72,317.65 L263.05,319.50 L263.38,321.48 L263.71,323.58 L264.04,325.80 L264.37,328.13 L264.70,330.55 L265.03,333.03 L265.36,335.55 L265.69,338.05 L266.02,340.48 L266.35,342.76 L266.68,344.82 L267.01,346.56 L267.34,347.88 L267.67,348.72 L268.00,349.00 L268.27,348.42 L268.53,346.77 L268.80,344.24 L269.07,341.06 L269.33,337.49 L269.60,333.74 L269.87,329.94 L270.13,326.21 L270.40,322.60 L270.67,319.17 L270.93,315.93 L271.20,312.90 L271.47,310.07 L271.73,307.44 L272.00,305.01 L272.27,302.77 L272.53,300.72 L272.80,298.85 L273.07,297.16 L273.33,295.63 L273.60,294.26 L273.87,293.05 L274.13,291.99 L274.40,291.08 L274.67,290.32 L274.93,289.70 L275.20,289.22 L275.47,288.87 L275.73,288.67 L276.00,288.60 L276.19,288.66 L276.37,288.86 L276.56,289.18 L276.75,289.63 L276.93,290.21 L277.12,290.92 L277.31,291.77 L277.49,292.75 L277.68,293.88 L277.87,295.14 L278.05,296.55 L278.24,298.10 L278.43,299.81 L278.61,301.66 L278.80,303.68 L278.99,305.84 L279.17,308.16 L279.36,310.63 L279.55,313.24 L279.73,315.97 L279.92,318.82 L280.11,321.74 L280.29,324.69 L280.48,327.61 L280.67,330.40 L280.85,332.95 L281.04,335.15 L281.23,336.85 L281.41,337.93 L281.60,338.30 L281.80,338.01 L281.99,337.14 L282.19,335.77 L282.39,333.98 L282.58,331.86 L282.78,329.51 L282.98,327.02 L283.17,324.46 L283.37,321.89 L283.57,319.36 L283.76,316.90 L283.96,314.53 L284.16,312.27 L284.35,310.14 L284.55,308.13 L284.75,306.26 L284.94,304.53 L285.14,302.92 L285.34,301.46 L285.53,300.13 L285.73,298.93 L285.93,297.86 L286.12,296.93 L286.32,296.12 L286.52,295.44 L286.71,294.88 L286.91,294.45 L287.11,294.15 L287.30,293.96 L287.50,293.90 L287.70,293.96 L287.91,294.14 L288.11,294.45 L288.31,294.88 L288.52,295.43 L288.72,296.10 L288.92,296.90 L289.13,297.83 L289.33,298.89 L289.53,300.08 L289.74,301.39 L289.94,302.84 L290.14,304.43 L290.35,306.15 L290.55,308.00 L290.75,309.98 L290.96,312.08 L291.16,314.30 L291.36,316.63 L291.57,319.05 L291.77,321.53 L291.97,324.05 L292.18,326.55 L292.38,328.98 L292.58,331.26 L292.79,333.32 L292.99,335.06 L293.19,336.38 L293.40,337.22 L293.60,337.50 L293.84,337.17 L294.09,336.19 L294.33,334.64 L294.57,332.64 L294.82,330.28 L295.06,327.70 L295.30,324.98 L295.55,322.20 L295.79,319.44 L296.03,316.74 L296.28,314.12 L296.52,311.62 L296.76,309.24 L297.01,307.01 L297.25,304.91 L297.49,302.96 L297.74,301.16 L297.98,299.50 L298.22,297.98 L298.47,296.61 L298.71,295.37 L298.95,294.27 L299.20,293.31 L299.44,292.48 L299.68,291.78 L299.93,291.21 L300.17,290.77 L300.41,290.45 L300.66,290.26 L300.90,290.20 L301.09,290.24 L301.29,290.35 L301.48,290.53 L301.67,290.78 L301.87,291.10 L302.06,291.49 L302.25,291.96 L302.45,292.48 L302.64,293.07 L302.83,293.72 L303.03,294.43 L303.22,295.20 L303.41,296.01 L303.61,296.86 L303.80,297.75 L303.99,298.67 L304.19,299.61 L304.38,300.56 L304.57,301.52 L304.77,302.45 L304.96,303.37 L305.15,304.24 L305.35,305.06 L305.54,305.81 L305.73,306.47 L305.93,307.04 L306.12,307.49 L306.31,307.83 L306.51,308.03 L306.70,308.10 L306.83,308.08 L306.97,308.01 L307.10,307.90 L307.23,307.75 L307.37,307.56 L307.50,307.33 L307.63,307.07 L307.77,306.77 L307.90,306.46 L308.03,306.12 L308.17,305.77 L308.30,305.40 L308.43,305.03 L308.57,304.65 L308.70,304.27 L308.83,303.90 L308.97,303.54 L309.10,303.19 L309.23,302.85 L309.37,302.53 L309.50,302.24 L309.63,301.97 L309.77,301.73 L309.90,301.51 L310.03,301.33 L310.17,301.18 L310.30,301.06 L310.43,300.97 L310.57,300.92 L310.70,300.90 L310.91,300.92 L311.11,301.00 L311.32,301.12 L311.53,301.29 L311.73,301.50 L311.94,301.76 L312.15,302.07 L312.35,302.41 L312.56,302.80 L312.77,303.22 L312.97,303.67 L313.18,304.16 L313.39,304.67 L313.59,305.20 L313.80,305.75 L314.01,306.30 L314.21,306.87 L314.42,307.43 L314.63,307.98 L314.83,308.52 L315.04,309.04 L315.25,309.53 L315.45,309.98 L315.66,310.38 L315.87,310.74 L316.07,311.04 L316.28,311.28 L316.49,311.46 L316.69,311.56 L316.90,311.60 L317.10,311.58 L317.31,311.52 L317.51,311.43 L317.71,311.30 L317.92,311.14 L318.12,310.95 L318.32,310.72 L318.53,310.48 L318.73,310.21 L318.93,309.92 L319.14,309.61 L319.34,309.30 L319.54,308.98 L319.75,308.65 L319.95,308.33 L320.15,308.01 L320.36,307.70 L320.56,307.39 L320.76,307.10 L320.97,306.83 L321.17,306.57 L321.37,306.34 L321.58,306.12 L321.78,305.94 L321.98,305.78 L322.19,305.64 L322.39,305.54 L322.59,305.46 L322.80,305.42 L323.00,305.40" fill="none" stroke="#000" stroke-width="1.35" stroke-linejoin="round"/>
<line x1="45.4" y1="529.5" x2="332" y2="529.5" stroke="#2c2c2c" stroke-width="1"/>
<line x1="45.5" y1="742.5" x2="332" y2="742.5" stroke="#2c2c2c" stroke-width="1"/>
<line x1="45.5" y1="529.5" x2="45.5" y2="742.5" stroke="#2c2c2c" stroke-width="1"/>
<line x1="41.4" y1="529.5" x2="45.4" y2="529.5" stroke="#2c2c2c" stroke-width="1"/>
<line x1="42.9" y1="549.98" x2="45.4" y2="549.98" stroke="#2c2c2c" stroke-width="1"/>
<line x1="41.4" y1="570.46" x2="45.4" y2="570.46" stroke="#2c2c2c" stroke-width="1"/>
<line x1="42.9" y1="590.9399999999999" x2="45.4" y2="590.9399999999999" stroke="#2c2c2c" stroke-width="1"/>
<line x1="41.4" y1="611.42" x2="45.4" y2="611.42" stroke="#2c2c2c" stroke-width="1"/>
<line x1="42.9" y1="631.9" x2="45.4" y2="631.9" stroke="#2c2c2c" stroke-width="1"/>
<line x1="41.4" y1="652.38" x2="45.4" y2="652.38" stroke="#2c2c2c" stroke-width="1"/>
<line x1="42.9" y1="672.86" x2="45.4" y2="672.86" stroke="#2c2c2c" stroke-width="1"/>
<line x1="41.4" y1="693.3399999999999" x2="45.4" y2="693.3399999999999" stroke="#2c2c2c" stroke-width="1"/>
<line x1="42.9" y1="713.8199999999999" x2="45.4" y2="713.8199999999999" stroke="#2c2c2c" stroke-width="1"/>
<line x1="41.4" y1="734.3" x2="45.4" y2="734.3" stroke="#2c2c2c" stroke-width="1"/>
<text x="0" y="0" font-size="12.5" font-weight="bold" text-anchor="end" fill="#000"  transform="translate(37.6 534.1) scale(1 1.06)">0</text>
<text x="0" y="0" font-size="12.5" font-weight="bold" text-anchor="end" fill="#000"  transform="translate(37.6 575.0600000000001) scale(1 1.06)">-5</text>
<text x="0" y="0" font-size="12.5" font-weight="bold" text-anchor="end" fill="#000"  transform="translate(37.6 616.02) scale(1 1.06)">-10</text>
<text x="0" y="0" font-size="12.5" font-weight="bold" text-anchor="end" fill="#000"  transform="translate(37.6 656.98) scale(1 1.06)">-15</text>
<text x="0" y="0" font-size="12.5" font-weight="bold" text-anchor="end" fill="#000"  transform="translate(37.6 697.9399999999999) scale(1 1.06)">-20</text>
<text x="0" y="0" font-size="12.5" font-weight="bold" text-anchor="end" fill="#000"  transform="translate(37.6 738.9) scale(1 1.06)">-25</text>
<line x1="66.67407407407407" y1="742.5" x2="66.67407407407407" y2="746.0" stroke="#2c2c2c" stroke-width="1"/>
<line x1="66.67407407407407" y1="529.5" x2="66.67407407407407" y2="533.0" stroke="#2c2c2c" stroke-width="1"/>
<line x1="93.26666666666668" y1="742.5" x2="93.26666666666668" y2="744.5" stroke="#2c2c2c" stroke-width="1"/>
<line x1="93.26666666666668" y1="529.5" x2="93.26666666666668" y2="531.5" stroke="#2c2c2c" stroke-width="1"/>
<line x1="119.85925925925926" y1="742.5" x2="119.85925925925926" y2="746.0" stroke="#2c2c2c" stroke-width="1"/>
<line x1="119.85925925925926" y1="529.5" x2="119.85925925925926" y2="533.0" stroke="#2c2c2c" stroke-width="1"/>
<line x1="146.45185185185187" y1="742.5" x2="146.45185185185187" y2="744.5" stroke="#2c2c2c" stroke-width="1"/>
<line x1="146.45185185185187" y1="529.5" x2="146.45185185185187" y2="531.5" stroke="#2c2c2c" stroke-width="1"/>
<line x1="173.04444444444448" y1="742.5" x2="173.04444444444448" y2="746.0" stroke="#2c2c2c" stroke-width="1"/>
<line x1="173.04444444444448" y1="529.5" x2="173.04444444444448" y2="533.0" stroke="#2c2c2c" stroke-width="1"/>
<line x1="199.63703703703706" y1="742.5" x2="199.63703703703706" y2="744.5" stroke="#2c2c2c" stroke-width="1"/>
<line x1="199.63703703703706" y1="529.5" x2="199.63703703703706" y2="531.5" stroke="#2c2c2c" stroke-width="1"/>
<line x1="226.22962962962967" y1="742.5" x2="226.22962962962967" y2="746.0" stroke="#2c2c2c" stroke-width="1"/>
<line x1="226.22962962962967" y1="529.5" x2="226.22962962962967" y2="533.0" stroke="#2c2c2c" stroke-width="1"/>
<line x1="252.82222222222225" y1="742.5" x2="252.82222222222225" y2="744.5" stroke="#2c2c2c" stroke-width="1"/>
<line x1="252.82222222222225" y1="529.5" x2="252.82222222222225" y2="531.5" stroke="#2c2c2c" stroke-width="1"/>
<line x1="279.41481481481486" y1="742.5" x2="279.41481481481486" y2="746.0" stroke="#2c2c2c" stroke-width="1"/>
<line x1="279.41481481481486" y1="529.5" x2="279.41481481481486" y2="533.0" stroke="#2c2c2c" stroke-width="1"/>
<line x1="306.0074074074074" y1="742.5" x2="306.0074074074074" y2="744.5" stroke="#2c2c2c" stroke-width="1"/>
<line x1="306.0074074074074" y1="529.5" x2="306.0074074074074" y2="531.5" stroke="#2c2c2c" stroke-width="1"/>
<line x1="332.6" y1="742.5" x2="332.6" y2="746.0" stroke="#2c2c2c" stroke-width="1"/>
<line x1="332.6" y1="529.5" x2="332.6" y2="533.0" stroke="#2c2c2c" stroke-width="1"/>
<text x="0" y="0" font-size="12.2" font-weight="bold" text-anchor="middle" fill="#000"  transform="translate(66.67407407407407 760.9) scale(1 1.05)">1450</text>
<text x="0" y="0" font-size="12.2" font-weight="bold" text-anchor="middle" fill="#000"  transform="translate(119.85925925925926 760.9) scale(1 1.05)">1500</text>
<text x="0" y="0" font-size="12.2" font-weight="bold" text-anchor="middle" fill="#000"  transform="translate(173.04444444444448 760.9) scale(1 1.05)">1550</text>
<text x="0" y="0" font-size="12.2" font-weight="bold" text-anchor="middle" fill="#000"  transform="translate(226.22962962962967 760.9) scale(1 1.05)">1600</text>
<text x="0" y="0" font-size="12.2" font-weight="bold" text-anchor="middle" fill="#000"  transform="translate(279.41481481481486 760.9) scale(1 1.05)">1650</text>
<text x="0" y="0" font-size="12.2" font-weight="bold" text-anchor="middle" fill="#000"  transform="translate(332.6 760.9) scale(1 1.05)">1700</text>
<text x="188.6" y="779.7" font-size="12.7" font-weight="bold" text-anchor="middle" fill="#000"  textLength="97.9" lengthAdjust="spacingAndGlyphs">Wavelength (nm)</text>
<text x="9.7" y="646.7" font-size="13.4" font-weight="bold" text-anchor="middle" fill="#000"  transform="rotate(-90 9.7 646.7)" textLength="154" lengthAdjust="spacingAndGlyphs">Transmission of MZI (dB)</text>
<text x="76.5" y="714.5" font-size="16" font-weight="bold" text-anchor="middle" fill="#000" >(c)</text>
<line x1="332.6" y1="529.5" x2="332.6" y2="742.5" stroke="#ff5c5c" stroke-width="1.2"/>
<line x1="332.6" y1="529.5" x2="336.6" y2="529.5" stroke="#f00" stroke-width="1"/>
<line x1="332.6" y1="554.5" x2="335.1" y2="554.5" stroke="#f00" stroke-width="1"/>
<line x1="332.6" y1="579.5" x2="336.6" y2="579.5" stroke="#f00" stroke-width="1"/>
<line x1="332.6" y1="604.5" x2="335.1" y2="604.5" stroke="#f00" stroke-width="1"/>
<line x1="332.6" y1="629.5" x2="336.6" y2="629.5" stroke="#f00" stroke-width="1"/>
<line x1="332.6" y1="654.5" x2="335.1" y2="654.5" stroke="#f00" stroke-width="1"/>
<line x1="332.6" y1="679.5" x2="336.6" y2="679.5" stroke="#f00" stroke-width="1"/>
<line x1="332.6" y1="704.5" x2="335.1" y2="704.5" stroke="#f00" stroke-width="1"/>
<line x1="332.6" y1="729.5" x2="336.6" y2="729.5" stroke="#f00" stroke-width="1"/>
<text x="0" y="0" font-size="12.6" font-weight="bold" text-anchor="start" fill="#f00"  transform="translate(341.0 533.4) scale(1 1.03)">-1</text>
<text x="0" y="0" font-size="12.6" font-weight="bold" text-anchor="start" fill="#f00"  transform="translate(341.0 583.4) scale(1 1.03)">-2</text>
<text x="0" y="0" font-size="12.6" font-weight="bold" text-anchor="start" fill="#f00"  transform="translate(341.0 633.4) scale(1 1.03)">-3</text>
<text x="0" y="0" font-size="12.6" font-weight="bold" text-anchor="start" fill="#f00"  transform="translate(341.0 683.4) scale(1 1.03)">-4</text>
<text x="0" y="0" font-size="12.6" font-weight="bold" text-anchor="start" fill="#f00"  transform="translate(341.0 733.4) scale(1 1.03)">-5</text>
<text x="371.7" y="646.6" font-size="13" font-weight="bold" text-anchor="middle" fill="#f00"  transform="rotate(-90 371.7 646.6)" textLength="158.6" lengthAdjust="spacingAndGlyphs">Transmission of DCF (dB)</text>
<path d="M55.30,567.40 L55.39,567.36 L55.49,567.24 L55.58,567.04 L55.67,566.76 L55.77,566.42 L55.86,566.01 L55.95,565.54 L56.05,565.03 L56.14,564.47 L56.23,563.87 L56.33,563.25 L56.42,562.61 L56.51,561.96 L56.61,561.31 L56.70,560.66 L56.79,560.03 L56.89,559.41 L56.98,558.81 L57.07,558.25 L57.17,557.72 L57.26,557.23 L57.35,556.78 L57.45,556.37 L57.54,556.01 L57.63,555.71 L57.73,555.46 L57.82,555.26 L57.91,555.11 L58.01,555.03 L58.10,555.00 L58.27,555.05 L58.45,555.19 L58.62,555.42 L58.79,555.75 L58.97,556.17 L59.14,556.68 L59.31,557.28 L59.49,557.97 L59.66,558.73 L59.83,559.58 L60.01,560.51 L60.18,561.50 L60.35,562.56 L60.53,563.68 L60.70,564.84 L60.87,566.05 L61.05,567.28 L61.22,568.53 L61.39,569.78 L61.57,571.02 L61.74,572.23 L61.91,573.38 L62.09,574.46 L62.26,575.45 L62.43,576.34 L62.61,577.09 L62.78,577.69 L62.95,578.14 L63.13,578.41 L63.30,578.50 L63.44,578.42 L63.58,578.18 L63.72,577.79 L63.86,577.25 L64.00,576.59 L64.14,575.80 L64.28,574.92 L64.42,573.95 L64.56,572.91 L64.70,571.83 L64.84,570.71 L64.98,569.58 L65.12,568.44 L65.26,567.32 L65.40,566.21 L65.54,565.14 L65.68,564.12 L65.82,563.14 L65.96,562.22 L66.10,561.37 L66.24,560.58 L66.38,559.87 L66.52,559.23 L66.66,558.67 L66.80,558.19 L66.94,557.80 L67.08,557.50 L67.22,557.28 L67.36,557.14 L67.50,557.10 L67.67,557.15 L67.83,557.31 L68.00,557.58 L68.17,557.96 L68.33,558.44 L68.50,559.02 L68.67,559.71 L68.83,560.49 L69.00,561.38 L69.17,562.36 L69.33,563.44 L69.50,564.60 L69.67,565.84 L69.83,567.16 L70.00,568.54 L70.17,569.98 L70.33,571.46 L70.50,572.97 L70.67,574.50 L70.83,576.02 L71.00,577.51 L71.17,578.95 L71.33,580.31 L71.50,581.57 L71.67,582.70 L71.83,583.67 L72.00,584.45 L72.17,585.03 L72.33,585.38 L72.50,585.50 L72.66,585.40 L72.81,585.09 L72.97,584.58 L73.13,583.90 L73.28,583.05 L73.44,582.05 L73.60,580.94 L73.75,579.73 L73.91,578.44 L74.07,577.10 L74.22,575.73 L74.38,574.35 L74.54,572.98 L74.69,571.63 L74.85,570.31 L75.01,569.04 L75.16,567.83 L75.32,566.68 L75.48,565.61 L75.63,564.61 L75.79,563.70 L75.95,562.87 L76.10,562.14 L76.26,561.50 L76.42,560.95 L76.57,560.50 L76.73,560.15 L76.89,559.90 L77.04,559.75 L77.20,559.70 L77.36,559.76 L77.53,559.94 L77.69,560.25 L77.85,560.68 L78.02,561.23 L78.18,561.90 L78.34,562.69 L78.51,563.60 L78.67,564.62 L78.83,565.77 L79.00,567.02 L79.16,568.39 L79.32,569.86 L79.49,571.43 L79.65,573.09 L79.81,574.83 L79.98,576.64 L80.14,578.50 L80.30,580.40 L80.47,582.31 L80.63,584.21 L80.79,586.07 L80.96,587.84 L81.12,589.50 L81.28,591.00 L81.45,592.30 L81.61,593.36 L81.77,594.15 L81.94,594.64 L82.10,594.80 L82.26,594.65 L82.41,594.20 L82.57,593.47 L82.73,592.48 L82.88,591.27 L83.04,589.87 L83.20,588.31 L83.35,586.65 L83.51,584.90 L83.67,583.10 L83.82,581.29 L83.98,579.49 L84.14,577.71 L84.29,575.98 L84.45,574.32 L84.61,572.72 L84.76,571.22 L84.92,569.80 L85.08,568.49 L85.23,567.28 L85.39,566.17 L85.55,565.18 L85.70,564.30 L85.86,563.53 L86.02,562.88 L86.17,562.35 L86.33,561.93 L86.49,561.64 L86.64,561.46 L86.80,561.40 L86.96,561.47 L87.13,561.68 L87.29,562.02 L87.45,562.51 L87.62,563.13 L87.78,563.90 L87.94,564.80 L88.11,565.85 L88.27,567.03 L88.43,568.36 L88.60,569.82 L88.76,571.42 L88.92,573.16 L89.09,575.02 L89.25,577.01 L89.41,579.12 L89.58,581.34 L89.74,583.65 L89.90,586.04 L90.07,588.48 L90.23,590.94 L90.39,593.38 L90.56,595.75 L90.72,598.01 L90.88,600.09 L91.05,601.91 L91.21,603.43 L91.37,604.56 L91.54,605.26 L91.70,605.50 L91.86,605.28 L92.03,604.63 L92.19,603.59 L92.35,602.19 L92.52,600.49 L92.68,598.56 L92.84,596.45 L93.01,594.22 L93.17,591.91 L93.33,589.59 L93.50,587.27 L93.66,585.00 L93.82,582.79 L93.99,580.66 L94.15,578.63 L94.31,576.71 L94.48,574.91 L94.64,573.23 L94.80,571.69 L94.97,570.27 L95.13,568.98 L95.29,567.83 L95.46,566.82 L95.62,565.94 L95.78,565.19 L95.95,564.58 L96.11,564.11 L96.27,563.77 L96.44,563.57 L96.60,563.50 L96.76,563.57 L96.93,563.79 L97.09,564.16 L97.25,564.67 L97.42,565.33 L97.58,566.14 L97.74,567.10 L97.91,568.21 L98.07,569.47 L98.23,570.89 L98.40,572.45 L98.56,574.17 L98.72,576.04 L98.89,578.05 L99.05,580.22 L99.21,582.52 L99.38,584.96 L99.54,587.51 L99.70,590.17 L99.87,592.90 L100.03,595.68 L100.19,598.47 L100.36,601.21 L100.52,603.84 L100.68,606.29 L100.85,608.47 L101.01,610.28 L101.17,611.65 L101.34,612.51 L101.50,612.80 L101.67,612.53 L101.85,611.72 L102.02,610.42 L102.19,608.69 L102.37,606.62 L102.54,604.28 L102.71,601.76 L102.89,599.13 L103.06,596.44 L103.23,593.75 L103.41,591.10 L103.58,588.52 L103.75,586.04 L103.93,583.66 L104.10,581.41 L104.27,579.30 L104.45,577.32 L104.62,575.49 L104.79,573.80 L104.97,572.27 L105.14,570.88 L105.31,569.64 L105.49,568.55 L105.66,567.60 L105.83,566.81 L106.01,566.16 L106.18,565.65 L106.35,565.29 L106.53,565.07 L106.70,565.00 L106.88,565.08 L107.05,565.33 L107.23,565.74 L107.41,566.33 L107.58,567.08 L107.76,568.00 L107.94,569.09 L108.11,570.37 L108.29,571.82 L108.47,573.46 L108.64,575.28 L108.82,577.30 L109.00,579.52 L109.17,581.94 L109.35,584.57 L109.53,587.41 L109.70,590.46 L109.88,593.71 L110.06,597.17 L110.23,600.82 L110.41,604.64 L110.59,608.58 L110.76,612.59 L110.94,616.58 L111.12,620.44 L111.29,624.01 L111.47,627.11 L111.65,629.52 L111.82,631.07 L112.00,631.60 L112.18,631.09 L112.36,629.59 L112.54,627.25 L112.72,624.23 L112.90,620.75 L113.08,616.98 L113.26,613.07 L113.44,609.14 L113.62,605.26 L113.80,601.50 L113.98,597.90 L114.16,594.48 L114.34,591.26 L114.52,588.25 L114.70,585.44 L114.88,582.83 L115.06,580.43 L115.24,578.23 L115.42,576.22 L115.60,574.41 L115.78,572.78 L115.96,571.34 L116.14,570.07 L116.32,568.98 L116.50,568.06 L116.68,567.32 L116.86,566.74 L117.04,566.33 L117.22,566.08 L117.40,566.00 L117.58,566.09 L117.75,566.35 L117.93,566.79 L118.11,567.41 L118.28,568.20 L118.46,569.19 L118.64,570.35 L118.81,571.71 L118.99,573.27 L119.17,575.03 L119.34,577.00 L119.52,579.19 L119.70,581.61 L119.87,584.26 L120.05,587.17 L120.23,590.33 L120.40,593.75 L120.58,597.46 L120.76,601.45 L120.93,605.72 L121.11,610.28 L121.29,615.10 L121.46,620.13 L121.64,625.30 L121.82,630.48 L121.99,635.45 L122.17,639.94 L122.35,643.57 L122.52,645.96 L122.70,646.80 L122.88,645.98 L123.06,643.63 L123.24,640.06 L123.42,635.64 L123.60,630.72 L123.78,625.61 L123.96,620.48 L124.14,615.49 L124.32,610.71 L124.50,606.18 L124.68,601.93 L124.86,597.96 L125.04,594.27 L125.22,590.86 L125.40,587.71 L125.58,584.82 L125.76,582.17 L125.94,579.76 L126.12,577.58 L126.30,575.61 L126.48,573.86 L126.66,572.30 L126.84,570.94 L127.02,569.78 L127.20,568.80 L127.38,568.00 L127.56,567.39 L127.74,566.95 L127.92,566.69 L128.10,566.60 L128.27,566.69 L128.45,566.97 L128.62,567.42 L128.79,568.07 L128.97,568.90 L129.14,569.93 L129.31,571.15 L129.49,572.58 L129.66,574.22 L129.83,576.08 L130.01,578.16 L130.18,580.49 L130.35,583.06 L130.53,585.90 L130.70,589.03 L130.87,592.46 L131.05,596.20 L131.22,600.30 L131.39,604.76 L131.57,609.61 L131.74,614.87 L131.91,620.56 L132.09,626.66 L132.26,633.15 L132.43,639.91 L132.61,646.73 L132.78,653.23 L132.95,658.78 L133.13,662.62 L133.30,664.00 L133.48,662.65 L133.67,658.90 L133.85,653.45 L134.03,647.06 L134.22,640.33 L134.40,633.65 L134.58,627.22 L134.77,621.16 L134.95,615.51 L135.13,610.28 L135.32,605.45 L135.50,601.01 L135.68,596.93 L135.87,593.20 L136.05,589.78 L136.23,586.66 L136.42,583.83 L136.60,581.26 L136.78,578.94 L136.97,576.86 L137.15,575.01 L137.33,573.37 L137.52,571.95 L137.70,570.72 L137.88,569.70 L138.07,568.87 L138.25,568.22 L138.43,567.76 L138.62,567.49 L138.80,567.40 L138.97,567.49 L139.15,567.78 L139.32,568.25 L139.49,568.92 L139.67,569.78 L139.84,570.84 L140.01,572.11 L140.19,573.59 L140.36,575.29 L140.53,577.22 L140.71,579.40 L140.88,581.83 L141.05,584.54 L141.23,587.53 L141.40,590.84 L141.57,594.49 L141.75,598.51 L141.92,602.94 L142.09,607.81 L142.27,613.18 L142.44,619.11 L142.61,625.64 L142.79,632.86 L142.96,640.81 L143.13,649.49 L143.31,658.81 L143.48,668.40 L143.65,677.40 L143.83,684.20 L144.00,686.80 L144.18,684.14 L144.37,677.21 L144.55,668.06 L144.73,658.35 L144.92,648.95 L145.10,640.20 L145.28,632.21 L145.47,624.96 L145.65,618.40 L145.83,612.46 L146.02,607.07 L146.20,602.18 L146.38,597.75 L146.57,593.72 L146.75,590.07 L146.93,586.75 L147.12,583.75 L147.30,581.05 L147.48,578.61 L147.67,576.43 L147.85,574.50 L148.03,572.79 L148.22,571.31 L148.40,570.04 L148.58,568.98 L148.77,568.12 L148.95,567.45 L149.13,566.98 L149.32,566.69 L149.50,566.60 L149.68,566.69 L149.86,566.98 L150.04,567.45 L150.22,568.12 L150.40,568.98 L150.58,570.04 L150.76,571.31 L150.94,572.79 L151.12,574.49 L151.30,576.43 L151.48,578.60 L151.66,581.04 L151.84,583.74 L152.02,586.74 L152.20,590.05 L152.38,593.70 L152.56,597.72 L152.74,602.15 L152.92,607.03 L153.10,612.41 L153.28,618.34 L153.46,624.89 L153.64,632.12 L153.82,640.08 L154.00,648.79 L154.18,658.14 L154.36,667.77 L154.54,676.83 L154.72,683.68 L154.90,686.30 L155.10,683.66 L155.31,676.78 L155.51,667.69 L155.71,658.02 L155.92,648.65 L156.12,639.93 L156.32,631.96 L156.53,624.72 L156.73,618.16 L156.93,612.23 L157.14,606.85 L157.34,601.97 L157.54,597.53 L157.75,593.51 L157.95,589.86 L158.15,586.55 L158.36,583.55 L158.56,580.84 L158.76,578.41 L158.97,576.23 L159.17,574.30 L159.37,572.59 L159.58,571.11 L159.78,569.84 L159.98,568.78 L160.19,567.92 L160.39,567.25 L160.59,566.78 L160.80,566.49 L161.00,566.40 L161.19,566.50 L161.39,566.79 L161.58,567.27 L161.77,567.95 L161.97,568.84 L162.16,569.93 L162.35,571.23 L162.55,572.75 L162.74,574.51 L162.93,576.50 L163.13,578.75 L163.32,581.27 L163.51,584.08 L163.71,587.20 L163.90,590.66 L164.09,594.49 L164.29,598.74 L164.48,603.45 L164.67,608.69 L164.87,614.53 L165.06,621.06 L165.25,628.42 L165.45,636.77 L165.64,646.32 L165.83,657.33 L166.03,670.16 L166.22,685.08 L166.41,701.88 L166.61,718.01 L166.80,725.60 L167.00,717.78 L167.19,701.28 L167.39,684.25 L167.59,669.20 L167.78,656.30 L167.98,645.23 L168.18,635.65 L168.37,627.29 L168.57,619.91 L168.77,613.36 L168.96,607.52 L169.16,602.28 L169.36,597.56 L169.55,593.31 L169.75,589.47 L169.95,586.01 L170.14,582.88 L170.34,580.07 L170.54,577.55 L170.73,575.30 L170.93,573.31 L171.13,571.56 L171.32,570.03 L171.52,568.73 L171.72,567.64 L171.91,566.75 L172.11,566.07 L172.31,565.59 L172.50,565.30 L172.70,565.20 L172.91,565.30 L173.12,565.59 L173.33,566.07 L173.54,566.75 L173.75,567.63 L173.96,568.72 L174.17,570.02 L174.38,571.54 L174.59,573.29 L174.80,575.27 L175.01,577.51 L175.22,580.03 L175.43,582.82 L175.64,585.93 L175.85,589.38 L176.06,593.19 L176.27,597.42 L176.48,602.10 L176.69,607.30 L176.90,613.09 L177.11,619.57 L177.32,626.84 L177.53,635.07 L177.74,644.44 L177.95,655.19 L178.16,667.57 L178.37,681.75 L178.58,697.28 L178.79,711.57 L179.00,718.00 L179.20,711.26 L179.40,696.47 L179.60,680.58 L179.80,666.18 L180.00,653.67 L180.20,642.84 L180.40,633.42 L180.60,625.16 L180.80,617.86 L181.00,611.36 L181.20,605.56 L181.40,600.35 L181.60,595.66 L181.80,591.42 L182.00,587.60 L182.20,584.15 L182.40,581.04 L182.60,578.24 L182.80,575.72 L183.00,573.48 L183.20,571.49 L183.40,569.74 L183.60,568.22 L183.80,566.92 L184.00,565.83 L184.20,564.95 L184.40,564.27 L184.60,563.79 L184.80,563.50 L185.00,563.40 L185.20,563.50 L185.39,563.79 L185.59,564.27 L185.79,564.95 L185.98,565.84 L186.18,566.93 L186.38,568.23 L186.57,569.76 L186.77,571.51 L186.97,573.51 L187.16,575.76 L187.36,578.28 L187.56,581.09 L187.75,584.21 L187.95,587.68 L188.15,591.52 L188.34,595.77 L188.54,600.49 L188.74,605.73 L188.93,611.58 L189.13,618.14 L189.33,625.52 L189.52,633.90 L189.72,643.49 L189.92,654.58 L190.11,667.51 L190.31,682.63 L190.51,699.78 L190.70,716.46 L190.90,724.40 L191.11,715.96 L191.31,698.55 L191.52,680.94 L191.73,665.57 L191.93,652.48 L192.14,641.30 L192.35,631.65 L192.55,623.24 L192.76,615.83 L192.97,609.26 L193.17,603.39 L193.38,598.14 L193.59,593.41 L193.79,589.15 L194.00,585.30 L194.21,581.83 L194.41,578.70 L194.62,575.89 L194.83,573.37 L195.03,571.12 L195.24,569.12 L195.45,567.36 L195.65,565.84 L195.86,564.53 L196.07,563.44 L196.27,562.56 L196.48,561.87 L196.69,561.39 L196.89,561.10 L197.10,561.00 L197.29,561.09 L197.49,561.38 L197.68,561.85 L197.87,562.51 L198.07,563.37 L198.26,564.43 L198.45,565.69 L198.65,567.17 L198.84,568.86 L199.03,570.79 L199.23,572.96 L199.42,575.38 L199.61,578.07 L199.81,581.05 L200.00,584.34 L200.19,587.97 L200.39,591.96 L200.58,596.36 L200.77,601.19 L200.97,606.51 L201.16,612.36 L201.35,618.81 L201.55,625.91 L201.74,633.69 L201.93,642.15 L202.13,651.16 L202.32,660.35 L202.51,668.85 L202.71,675.20 L202.90,677.60 L203.14,675.04 L203.38,668.32 L203.62,659.41 L203.86,649.89 L204.10,640.63 L204.34,631.98 L204.58,624.07 L204.82,616.87 L205.06,610.35 L205.30,604.43 L205.54,599.07 L205.78,594.20 L206.02,589.78 L206.26,585.77 L206.50,582.12 L206.74,578.82 L206.98,575.82 L207.22,573.12 L207.46,570.69 L207.70,568.52 L207.94,566.59 L208.18,564.89 L208.42,563.41 L208.66,562.14 L208.90,561.08 L209.14,560.22 L209.38,559.55 L209.62,559.08 L209.86,558.79 L210.10,558.70 L210.30,558.79 L210.51,559.07 L210.71,559.54 L210.91,560.20 L211.12,561.06 L211.32,562.11 L211.52,563.37 L211.73,564.83 L211.93,566.52 L212.13,568.43 L212.34,570.59 L212.54,572.99 L212.74,575.66 L212.95,578.62 L213.15,581.88 L213.35,585.47 L213.56,589.41 L213.76,593.75 L213.96,598.51 L214.17,603.74 L214.37,609.49 L214.57,615.79 L214.78,622.69 L214.98,630.21 L215.18,638.31 L215.39,646.84 L215.59,655.40 L215.79,663.18 L216.00,668.87 L216.20,671.00 L216.44,668.74 L216.68,662.74 L216.92,654.61 L217.16,645.74 L217.40,636.98 L217.64,628.70 L217.88,621.05 L218.12,614.05 L218.36,607.68 L218.60,601.88 L218.84,596.60 L219.08,591.80 L219.32,587.44 L219.56,583.47 L219.80,579.86 L220.04,576.58 L220.28,573.62 L220.52,570.93 L220.76,568.52 L221.00,566.36 L221.24,564.44 L221.48,562.75 L221.72,561.28 L221.96,560.02 L222.20,558.96 L222.44,558.11 L222.68,557.45 L222.92,556.98 L223.16,556.69 L223.40,556.60 L223.62,556.69 L223.85,556.95 L224.07,557.40 L224.29,558.02 L224.52,558.83 L224.74,559.82 L224.96,561.01 L225.19,562.38 L225.41,563.96 L225.63,565.75 L225.86,567.75 L226.08,569.98 L226.30,572.43 L226.53,575.14 L226.75,578.10 L226.97,581.32 L227.20,584.83 L227.42,588.64 L227.64,592.75 L227.87,597.17 L228.09,601.90 L228.31,606.92 L228.54,612.21 L228.76,617.68 L228.98,623.21 L229.21,628.59 L229.43,633.49 L229.65,637.50 L229.88,640.16 L230.10,641.10 L230.35,640.07 L230.60,637.14 L230.85,632.78 L231.10,627.51 L231.35,621.78 L231.60,615.95 L231.85,610.21 L232.10,604.71 L232.35,599.51 L232.60,594.64 L232.85,590.10 L233.10,585.90 L233.35,582.02 L233.60,578.44 L233.85,575.16 L234.10,572.15 L234.35,569.41 L234.60,566.92 L234.85,564.67 L235.10,562.64 L235.35,560.83 L235.60,559.24 L235.85,557.85 L236.10,556.65 L236.35,555.65 L236.60,554.84 L236.85,554.21 L237.10,553.76 L237.35,553.49 L237.60,553.40 L237.84,553.49 L238.08,553.74 L238.32,554.17 L238.56,554.77 L238.80,555.54 L239.04,556.50 L239.28,557.63 L239.52,558.95 L239.76,560.46 L240.00,562.16 L240.24,564.07 L240.48,566.18 L240.72,568.50 L240.96,571.04 L241.20,573.82 L241.44,576.82 L241.68,580.07 L241.92,583.56 L242.16,587.29 L242.40,591.26 L242.64,595.45 L242.88,599.83 L243.12,604.34 L243.36,608.91 L243.60,613.39 L243.84,617.62 L244.08,621.35 L244.32,624.32 L244.56,626.23 L244.80,626.90 L245.05,626.19 L245.30,624.14 L245.55,620.98 L245.80,617.03 L246.05,612.58 L246.30,607.89 L246.55,603.14 L246.80,598.47 L247.05,593.96 L247.30,589.65 L247.55,585.59 L247.80,581.77 L248.05,578.22 L248.30,574.91 L248.55,571.86 L248.80,569.04 L249.05,566.46 L249.30,564.11 L249.55,561.98 L249.80,560.05 L250.05,558.33 L250.30,556.80 L250.55,555.47 L250.80,554.33 L251.05,553.36 L251.30,552.58 L251.55,551.98 L251.80,551.54 L252.05,551.29 L252.30,551.20 L252.54,551.28 L252.78,551.51 L253.02,551.89 L253.26,552.42 L253.50,553.12 L253.74,553.96 L253.98,554.97 L254.22,556.13 L254.46,557.46 L254.70,558.95 L254.94,560.60 L255.18,562.42 L255.42,564.40 L255.66,566.55 L255.90,568.86 L256.14,571.34 L256.38,573.97 L256.62,576.74 L256.86,579.65 L257.10,582.66 L257.34,585.75 L257.58,588.87 L257.82,591.98 L258.06,594.99 L258.30,597.81 L258.54,600.35 L258.78,602.50 L259.02,604.13 L259.26,605.15 L259.50,605.50 L259.77,605.13 L260.03,604.04 L260.30,602.30 L260.57,600.04 L260.83,597.36 L261.10,594.39 L261.37,591.24 L261.63,588.00 L261.90,584.76 L262.17,581.56 L262.43,578.45 L262.70,575.46 L262.97,572.61 L263.23,569.91 L263.50,567.38 L263.77,565.01 L264.03,562.82 L264.30,560.80 L264.57,558.95 L264.83,557.27 L265.10,555.75 L265.37,554.41 L265.63,553.22 L265.90,552.20 L266.17,551.34 L266.43,550.64 L266.70,550.10 L266.97,549.71 L267.23,549.48 L267.50,549.40 L267.76,549.47 L268.03,549.66 L268.29,549.99 L268.55,550.44 L268.82,551.03 L269.08,551.75 L269.34,552.60 L269.61,553.58 L269.87,554.68 L270.13,555.92 L270.40,557.28 L270.66,558.76 L270.92,560.36 L271.19,562.08 L271.45,563.90 L271.71,565.83 L271.98,567.84 L272.24,569.92 L272.50,572.05 L272.77,574.22 L273.03,576.38 L273.29,578.51 L273.56,580.57 L273.82,582.51 L274.08,584.27 L274.35,585.81 L274.61,587.08 L274.87,588.02 L275.14,588.60 L275.40,588.80 L275.67,588.58 L275.95,587.94 L276.22,586.90 L276.49,585.51 L276.77,583.83 L277.04,581.91 L277.31,579.81 L277.59,577.59 L277.86,575.31 L278.13,572.99 L278.41,570.69 L278.68,568.42 L278.95,566.22 L279.23,564.10 L279.50,562.08 L279.77,560.17 L280.05,558.38 L280.32,556.71 L280.59,555.16 L280.87,553.75 L281.14,552.47 L281.41,551.32 L281.69,550.31 L281.96,549.43 L282.23,548.69 L282.51,548.08 L282.78,547.61 L283.05,547.27 L283.33,547.07 L283.60,547.00 L283.87,547.05 L284.14,547.22 L284.41,547.49 L284.68,547.87 L284.95,548.35 L285.22,548.94 L285.49,549.64 L285.76,550.43 L286.03,551.33 L286.30,552.33 L286.57,553.41 L286.84,554.59 L287.11,555.85 L287.38,557.19 L287.65,558.59 L287.92,560.05 L288.19,561.56 L288.46,563.10 L288.73,564.66 L289.00,566.20 L289.27,567.73 L289.54,569.20 L289.81,570.59 L290.08,571.88 L290.35,573.03 L290.62,574.02 L290.89,574.83 L291.16,575.42 L291.43,575.78 L291.70,575.90 L291.99,575.77 L292.29,575.40 L292.58,574.78 L292.87,573.95 L293.17,572.92 L293.46,571.72 L293.75,570.39 L294.05,568.95 L294.34,567.43 L294.63,565.86 L294.93,564.26 L295.22,562.66 L295.51,561.08 L295.81,559.54 L296.10,558.04 L296.39,556.60 L296.69,555.23 L296.98,553.94 L297.27,552.74 L297.57,551.63 L297.86,550.61 L298.15,549.70 L298.45,548.89 L298.74,548.18 L299.03,547.58 L299.33,547.08 L299.62,546.70 L299.91,546.42 L300.21,546.26 L300.50,546.20 L300.77,546.24 L301.03,546.36 L301.30,546.57 L301.57,546.85 L301.83,547.21 L302.10,547.65 L302.37,548.17 L302.63,548.75 L302.90,549.41 L303.17,550.13 L303.43,550.92 L303.70,551.76 L303.97,552.65 L304.23,553.59 L304.50,554.56 L304.77,555.56 L305.03,556.57 L305.30,557.59 L305.57,558.61 L305.83,559.61 L306.10,560.58 L306.37,561.49 L306.63,562.35 L306.90,563.13 L307.17,563.82 L307.43,564.41 L307.70,564.88 L307.97,565.22 L308.23,565.43 L308.50,565.50 L308.81,565.43 L309.12,565.21 L309.43,564.84 L309.74,564.35 L310.05,563.73 L310.36,563.01 L310.67,562.19 L310.98,561.29 L311.29,560.33 L311.60,559.32 L311.91,558.27 L312.22,557.21 L312.53,556.15 L312.84,555.09 L313.15,554.05 L313.46,553.04 L313.77,552.07 L314.08,551.15 L314.39,550.27 L314.70,549.46 L315.01,548.71 L315.32,548.04 L315.63,547.43 L315.94,546.90 L316.25,546.44 L316.56,546.07 L316.87,545.78 L317.18,545.57 L317.49,545.44 L317.80,545.40 L317.93,545.41 L318.06,545.43 L318.19,545.47 L318.32,545.53 L318.45,545.61 L318.58,545.69 L318.71,545.80 L318.84,545.91 L318.97,546.04 L319.10,546.17 L319.23,546.32 L319.36,546.47 L319.49,546.63 L319.62,546.80 L319.75,546.96 L319.88,547.13 L320.01,547.30 L320.14,547.46 L320.27,547.62 L320.40,547.77 L320.53,547.92 L320.66,548.05 L320.79,548.17 L320.92,548.28 L321.05,548.38 L321.18,548.46 L321.31,548.52 L321.44,548.56 L321.57,548.59 L321.70,548.60" fill="none" stroke="#000" stroke-width="1.35" stroke-linejoin="round"/>
<path d="M55.30,584.50 C56.43,586.00 59.53,589.85 62.10,593.50 C64.67,597.15 67.85,602.18 70.70,606.40 C73.55,610.62 76.35,614.70 79.20,618.80 C82.05,622.90 84.95,626.93 87.80,631.00 C90.65,635.07 93.08,638.50 96.30,643.20 C99.52,647.90 103.87,654.45 107.10,659.20 C110.33,663.95 112.85,667.65 115.70,671.70 C118.55,675.75 121.35,679.75 124.20,683.50 C127.05,687.25 130.00,690.97 132.80,694.20 C135.60,697.43 138.37,700.22 141.00,702.90 C143.63,705.58 145.92,708.18 148.60,710.30 C151.28,712.42 154.25,714.28 157.10,715.60 C159.95,716.92 162.85,717.92 165.70,718.20 C168.55,718.48 171.35,717.92 174.20,717.30 C177.05,716.68 179.95,716.03 182.80,714.50 C185.65,712.97 188.45,710.58 191.30,708.10 C194.15,705.62 197.05,702.80 199.90,699.60 C202.75,696.40 205.55,692.67 208.40,688.90 C211.25,685.13 214.12,681.07 217.00,677.00 C219.88,672.93 222.47,669.38 225.70,664.50 C228.93,659.62 232.83,653.33 236.40,647.70 C239.97,642.07 243.83,635.93 247.10,630.70 C250.37,625.47 252.90,620.88 256.00,616.30 C259.10,611.72 262.30,607.70 265.70,603.20 C269.10,598.70 272.83,593.50 276.40,589.30 C279.97,585.10 283.67,581.50 287.10,578.00 C290.53,574.50 293.40,571.47 297.00,568.30 C300.60,565.13 305.52,561.40 308.70,559.00 C311.88,556.60 313.92,555.32 316.10,553.90 C318.28,552.48 320.85,551.07 321.80,550.50" fill="none" stroke="#f00" stroke-width="2.6"/>
</svg>
</body></html>
